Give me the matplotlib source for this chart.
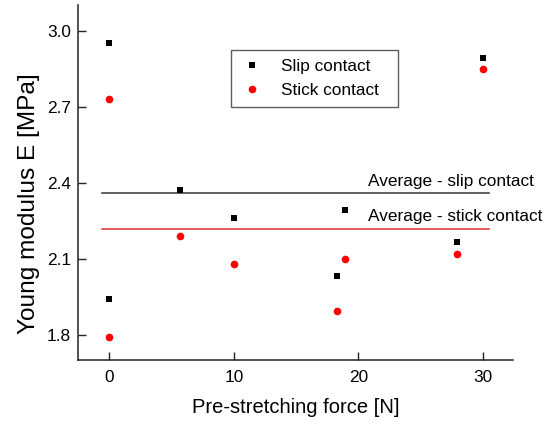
import matplotlib
matplotlib.use("Agg")
import matplotlib.pyplot as plt

plt.rcParams['font.family'] = ['Liberation Sans', 'DejaVu Sans']

# data
slip_x = [0, 0, 5.7, 10, 18.25, 18.9, 27.9, 30]
slip_y = [2.95, 1.94, 2.372, 2.26, 2.03, 2.291, 2.164, 2.89]
stick_x = [0, 0, 5.7, 10, 18.25, 18.9, 27.9, 30]
stick_y = [2.73, 1.79, 2.19, 2.08, 1.892, 2.10, 2.12, 2.847]

avg_slip = 2.359
avg_stick = 2.216
avg_x = [-0.6, 30.5]

x_ticks = [0, 10, 20, 30]
y_ticks = [1.8, 2.1, 2.4, 2.7, 3.0]

fig = plt.figure(figsize=(5.52, 4.26), dpi=100)
ax = fig.add_axes([0.1413, 0.1549, 0.788, 0.833])

ax.plot(avg_x, [avg_slip, avg_slip], color='#333333', lw=1.1)
ax.plot(avg_x, [avg_stick, avg_stick], color='#e03030', lw=1.1)

ax.plot(slip_x, slip_y, ls='none', marker='s', ms=5.0, mew=0, color='black', label='Slip contact')
ax.plot(stick_x, stick_y, ls='none', marker='o', ms=5.5, mew=0, color='#ff0000', label='Stick contact')

ax.text(20.75, 2.387, 'Average - slip contact', fontsize=12.45, va='baseline')
ax.text(20.75, 2.248, 'Average - stick contact', fontsize=12.45, va='baseline')

ax.set_xlim(-2.5, 32.4)
ax.set_ylim(1.7, 3.1)
ax.set_xticks(x_ticks)
ax.set_yticks(y_ticks)
ax.set_yticklabels(['%.1f' % v for v in y_ticks])

ax.spines['top'].set_visible(False)
ax.spines['right'].set_visible(False)
for s in ['left', 'bottom']:
    ax.spines[s].set_linewidth(1.1)
    ax.spines[s].set_color('#222222')

ax.tick_params(axis='both', direction='in', length=5.5, width=1, labelsize=12.4, color='#222222')
ax.tick_params(axis='x', pad=7)
ax.tick_params(axis='y', pad=5)

ax.set_xlabel('Pre-stretching force [N]', fontsize=14.5)
ax.set_ylabel('Young modulus E [MPa]', fontsize=17.6)
ax.xaxis.set_label_coords(0.501, -0.107)
ax.yaxis.set_label_coords(-0.087, 0.441)

leg = ax.legend(loc='upper left', bbox_to_anchor=(0.351, 0.715, 0.384, 0.16), mode='expand',
                borderaxespad=0, fontsize=12.45, frameon=True, fancybox=False,
                edgecolor='#333333', handletextpad=0.98, handlelength=1.4,
                borderpad=0.52, labelspacing=0.56)
leg.get_frame().set_linewidth(1)

fig.savefig('out.png', dpi=100)
